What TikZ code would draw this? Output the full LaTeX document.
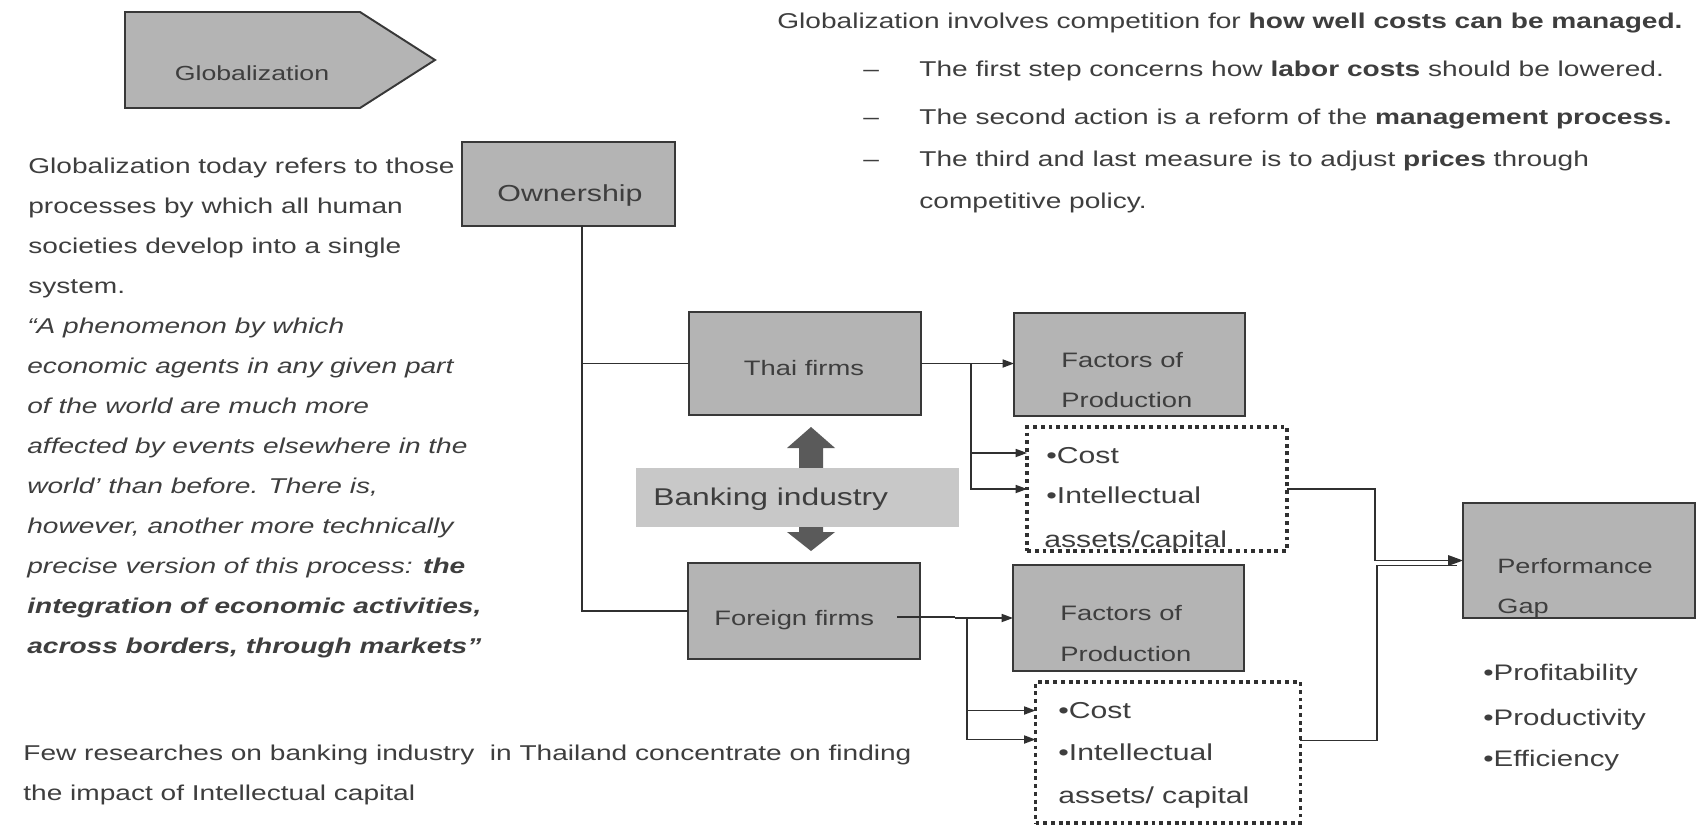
\documentclass[tikz,border=0pt]{standalone}
\usepackage{fontspec}
\setmainfont{Liberation Sans}[FakeStretch=1.31]
\usetikzlibrary{arrows.meta,calc}
\definecolor{txtgray}{HTML}{3E3E3E}
\definecolor{boxfill}{HTML}{B4B4B4}
\definecolor{boxline}{HTML}{383838}
\definecolor{bandfill}{HTML}{C8C8C8}
\definecolor{arrowgray}{HTML}{5A5A5A}
\definecolor{linegray}{HTML}{303030}
\newcommand{\fsz}[1]{\fontsize{#1}{#1}\selectfont}

\begin{document}
\begin{tikzpicture}[x=0.02cm,y=-0.02cm,
  box/.style={draw=boxline, fill=boxfill, line width=1.1pt, inner sep=0pt, outer sep=0pt},
  band/.style={fill=bandfill, inner sep=0pt, outer sep=0pt},
  dotbox/.style={draw=linegray, line width=1.8pt, dash pattern=on 2.2pt off 2.2pt, inner sep=0pt, outer sep=0pt},
  txt/.style={anchor=base west, inner sep=0pt, text=txtgray, font=\fsz{12.2pt}},
  ctxt/.style={anchor=base, inner sep=0pt, text=txtgray, font=\fsz{12.2pt}},
  conn/.style={draw=linegray, line width=0.85pt},
  arr/.style={conn, -{Triangle[length=6.5pt,width=4.6pt]}},
  bigarr/.style={conn, -{Triangle[length=8.5pt,width=6pt]}}
]
% canvas
\fill[white] (0,0) rectangle (1699,825);
\useasboundingbox (0,0) rectangle (1699,825);

% title arrow
\filldraw[box] (125,12) -- (360,12) -- (435,60) -- (360,108) -- (125,108) -- cycle;
\node[ctxt, font=\fsz{11.6pt}] (globt) at (252,80) {Globalization};

% left explanation
\node[txt] (l1) at (28,173) {Globalization today refers to those};
\node[txt] (l2) at (28,213) {processes by which all human};
\node[txt] (l3) at (28,253) {societies develop into a single};
\node[txt] (l4) at (28,293) {system.};
\node[txt, font=\fsz{12.2pt}\itshape] (l5) at (27,333) {“A phenomenon by which};
\node[txt, font=\fsz{12.2pt}\itshape] (l6) at (27,373) {economic agents in any given part};
\node[txt, font=\fsz{12.2pt}\itshape] (l7) at (27,413) {of the world are much more};
\node[txt, font=\fsz{12.2pt}\itshape] (l8) at (27,453) {affected by events elsewhere in the};
\node[txt, font=\fsz{12.2pt}\itshape] (l9) at (27,493) {world' than before. There is,};
\node[txt, font=\fsz{12.2pt}\itshape] (l10) at (27,533) {however, another more technically};
\node[txt, font=\fsz{12.2pt}\itshape] (l11) at (27,573) {precise version of this process: \textbf{the}};
\node[txt, font=\fsz{12.2pt}\itshape\bfseries] (l12) at (27,613) {integration of economic activities,};
\node[txt, font=\fsz{12.2pt}\itshape\bfseries] (l13) at (27,653) {across borders, through markets”};

% bottom remark
\node[txt] (b1) at (23,760) {Few researches on banking industry~ in Thailand concentrate on finding};
\node[txt] (b2) at (23,800) {the impact of Intellectual capital};

% top right remarks
\node[txt] (r1) at (777,28) {Globalization involves competition for \textbf{how well costs can be managed.}};
\node[txt] (d1) at (863,76) {–};
\node[txt] (r2) at (919,76) {The first step concerns how \textbf{labor costs} should be lowered.};
\node[txt] (d2) at (863,124) {–};
\node[txt] (r3) at (919,124) {The second action is a reform of the \textbf{management process.}};
\node[txt] (d3) at (863,166) {–};
\node[txt] (r4) at (919,166) {The third and last measure is to adjust \textbf{prices} through};
\node[txt] (r5) at (919,208) {competitive policy.};

% boxes
\node[box, minimum width=4.26cm, minimum height=1.68cm] (own) at (568.5,184) {};
\node[ctxt, font=\fsz{13.2pt}] (ownt) at (570,201) {Ownership};

\node[box, minimum width=4.64cm, minimum height=2.06cm] (thai) at (805,363.5) {};
\node[ctxt, font=\fsz{11.9pt}] (thait) at (804,375) {Thai firms};

\node[box, minimum width=4.62cm, minimum height=2.06cm] (fac1) at (1129.5,364.5) {};
\node[txt, font=\fsz{11.9pt}] (fac1a) at (1061,367) {Factors of};
\node[txt, font=\fsz{11.9pt}] (fac1b) at (1061,407) {Production};

\node[dotbox, minimum width=5.20cm, minimum height=2.48cm] (dot1) at (1157,489) {};
\node[txt, font=\fsz{13.1pt}] (dot1a) at (1046,463) {•Cost};
\node[txt, font=\fsz{13.1pt}] (dot1b) at (1046,503) {•Intellectual};
\node[txt, font=\fsz{13.1pt}] (dot1c) at (1044,547) {assets/capital};

% two-way arrow behind the banking band
\fill[arrowgray] (811,427) -- (835,448) -- (823,448) -- (823,532) -- (835,532)
  -- (811,551) -- (787,532) -- (799,532) -- (799,448) -- (787,448) -- cycle;
\node[band, minimum width=6.46cm, minimum height=1.18cm] (bank) at (797.5,497.5) {};
\node[txt, font=\fsz{13.8pt}] (bankt) at (653,505) {Banking industry};

\node[box, minimum width=4.64cm, minimum height=1.92cm] (fore) at (804,611) {};
\node[txt, font=\fsz{11.9pt}] (foret) at (714,625) {Foreign firms};

\node[box, minimum width=4.62cm, minimum height=2.12cm] (fac2) at (1128.5,618) {};
\node[txt, font=\fsz{11.9pt}] (fac2a) at (1060,620) {Factors of};
\node[txt, font=\fsz{11.9pt}] (fac2b) at (1060,661) {Production};

\node[dotbox, minimum width=5.30cm, minimum height=2.82cm] (dot2) at (1168,752.5) {};
\node[txt, font=\fsz{13.1pt}] (dot2a) at (1058,718) {•Cost};
\node[txt, font=\fsz{13.1pt}] (dot2b) at (1058,760) {•Intellectual};
\node[txt, font=\fsz{13.1pt}] (dot2c) at (1058,803) {assets/ capital};

\node[box, minimum width=4.64cm, minimum height=2.30cm] (perf) at (1579,560.5) {};
\node[txt, font=\fsz{11.8pt}] (perfa) at (1497,573) {Performance};
\node[txt, font=\fsz{11.8pt}] (perfb) at (1497,613) {Gap};

\node[txt, font=\fsz{12.8pt}] (m1) at (1483,680) {•Profitability};
\node[txt, font=\fsz{12.8pt}] (m2) at (1483,725) {•Productivity};
\node[txt, font=\fsz{12.8pt}] (m3) at (1483,766) {•Efficiency};

% connectors
\coordinate (tk) at (582,0);
\draw[conn] (own.south -| tk) |- (thai.west);
\draw[conn] (own.south -| tk) |- (fore.west);

\draw[arr] (thai.east) -- (fac1.west |- thai.east);
\coordinate (bx1) at (971,0);
\draw[arr] (bx1 |- thai.east) |- ($(dot1.west)+(0,-36)$);
\draw[arr] (bx1 |- thai.east) |- (dot1.west);

\coordinate (fs) at (897,617);
\coordinate (fj) at (955,617);
\draw[conn] (fs) -- (fj);
\draw[arr] (fj |- fac2.west) -- (fac2.west);
\coordinate (bx2) at (967,0);
\draw[arr] (bx2 |- fac2.west) |- ($(dot2.west)+(0,-42)$);
\draw[arr] (bx2 |- fac2.west) |- ($(dot2.west)+(0,-13)$);

\coordinate (jx1) at (1375,0);
\coordinate (jx2) at (1377,0);
\coordinate (d2o) at ($(dot2.east)+(0,-12)$);
\coordinate (pin2) at ($(perf.west)+(0,5)$);
\draw[bigarr] (dot1.east) -- (dot1.east -| jx1) |- (perf.west);
\draw[conn] (d2o) -- (d2o -| jx2) |- ($(pin2)+(-14,0)$);
\draw[conn] ($(pin2)+(-14,0)$) -- ($(pin2)+(-6,0)$);
\end{tikzpicture}
\end{document}
